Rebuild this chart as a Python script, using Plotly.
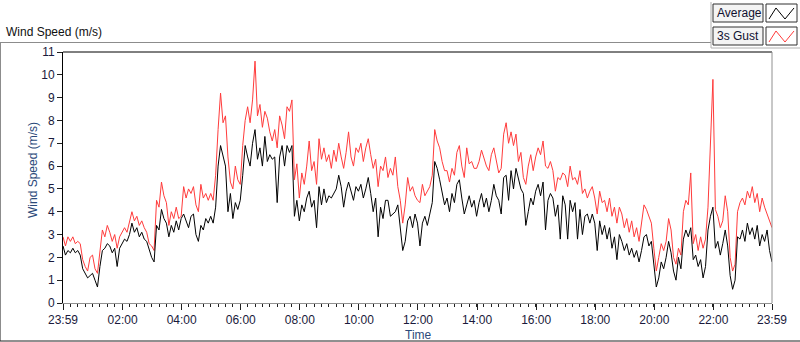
import pandas as pd
import plotly.graph_objects as go

# ---------------- data (5-minute readings, 23:59 -> 23:59) ----------------
start = "2020-01-01 23:59"
end = "2020-01-02 23:59"

average = [
    2.5, 2.1, 2.3, 2.2, 2.4, 2.2, 2.3, 2.1, 1.5, 1.3, 1.1, 1.2,
    1.3, 1.0, 0.7, 1.6, 2.3, 2.4, 2.6, 2.5, 2.2, 2.4, 1.6, 2.4,
    2.6, 2.8, 2.7, 3.0, 3.5, 3.1, 3.3, 2.9, 3.1, 2.8, 2.7, 2.3,
    2.0, 1.8, 3.4, 3.2, 4.1, 3.7, 3.5, 2.9, 3.4, 3.1, 3.6, 3.2,
    3.7, 3.9, 3.6, 3.3, 3.8, 3.9, 3.0, 2.7, 3.4, 3.2, 3.7, 3.5,
    3.8, 3.5, 4.2, 6.0, 6.9, 6.5, 6.0, 4.0, 4.8, 3.7, 4.4, 4.1,
    4.5, 5.6, 6.9, 6.4, 6.0, 7.0, 7.6, 6.3, 6.8, 6.0, 7.3, 6.2,
    6.5, 6.3, 6.4, 4.4, 6.4, 6.9, 6.0, 6.9, 6.6, 6.9, 3.8, 4.5,
    3.6, 4.3, 4.0, 4.6, 4.9, 4.2, 4.5, 3.3, 5.1, 4.3, 5.0, 4.4,
    4.7, 4.6, 4.8, 5.0, 5.6, 5.1, 4.2, 4.9, 5.3, 4.9, 4.5, 5.1,
    4.9, 5.2, 4.6, 5.0, 5.5, 4.8, 4.0, 4.6, 2.9, 4.2, 3.7, 4.5,
    4.5, 3.8, 3.9, 4.0, 4.3, 3.4, 2.3, 2.7, 3.6, 3.8, 3.3, 3.9,
    3.5, 2.5, 3.5, 3.8, 3.4, 3.9, 4.4, 6.2, 5.9, 5.4, 4.9, 4.3,
    4.6, 4.0, 4.8, 4.4, 5.2, 5.4, 4.6, 3.9, 4.3, 4.7, 4.2, 4.5,
    3.8, 4.4, 4.8, 4.2, 4.6, 4.0, 4.5, 5.2, 4.7, 4.5, 3.9, 5.5,
    5.6, 4.5, 5.8, 5.0, 5.9, 5.5, 5.0, 4.8, 3.4, 4.0, 4.6, 4.3,
    4.9, 5.2, 4.7, 5.3, 3.2, 4.5, 4.8, 4.6, 3.8, 4.3, 2.8, 4.7,
    4.3, 2.8, 4.5, 4.0, 4.4, 2.8, 4.1, 3.0, 3.8, 3.9, 3.5, 3.9,
    3.5, 2.3, 3.6, 3.0, 3.4, 2.8, 3.3, 2.4, 2.9, 1.9, 3.0, 2.7,
    2.3, 2.6, 2.1, 2.4, 2.0, 2.3, 1.8, 2.3, 2.9, 3.0, 2.5, 2.7,
    1.8, 0.7, 1.1, 1.8, 1.5, 2.0, 2.7, 2.2, 1.4, 1.0, 2.0, 1.5,
    2.8, 3.2, 2.9, 3.3, 1.9, 2.1, 1.6, 1.9, 1.1, 1.6, 3.2, 3.8,
    4.2, 2.4, 2.7, 2.1, 2.6, 3.2, 2.5, 1.2, 0.6, 1.0, 2.9, 2.8,
    3.2, 2.7, 3.5, 3.0, 3.3, 2.8, 3.4, 2.5, 3.0, 2.7, 3.2, 2.3,
    1.8,
]

gust = [
    2.9, 2.5, 2.9, 2.7, 2.9, 2.6, 2.7, 2.6, 1.9, 1.6, 1.4, 2.0,
    2.1, 1.5, 1.3, 2.4, 3.2, 2.9, 3.4, 3.1, 2.7, 3.0, 2.4, 2.9,
    3.1, 3.3, 3.1, 3.5, 4.0, 3.6, 3.8, 3.4, 3.6, 3.3, 3.1, 2.6,
    2.5, 2.3, 4.5, 4.2, 5.3, 4.7, 4.4, 3.4, 4.0, 3.7, 4.2, 3.7,
    3.8, 5.1, 4.6, 5.0, 4.8, 5.1, 4.3, 4.0, 5.2, 4.6, 4.8, 4.5,
    4.8, 4.5, 5.6, 7.6, 9.2, 7.9, 8.2, 6.4, 5.3, 5.0, 6.0, 5.4,
    5.2, 6.9, 8.0, 8.6, 7.9, 8.9, 10.6, 8.2, 8.7, 7.7, 8.4, 8.1,
    7.5, 7.1, 7.6, 6.8, 8.2, 7.8, 7.2, 8.6, 8.4, 8.9, 5.4, 6.1,
    4.6, 5.7, 5.2, 6.0, 7.1, 5.8, 6.2, 5.2, 7.2, 6.3, 6.8, 6.2,
    6.5, 5.9, 6.7, 6.2, 7.0, 6.4, 5.9, 6.6, 7.5, 6.4, 6.0, 6.8,
    6.6, 7.0, 6.2, 6.8, 7.2, 6.5, 5.9, 6.3, 5.1, 6.0, 5.8, 6.4,
    5.5, 5.9, 5.6, 6.4, 5.1, 4.5, 3.5, 4.3, 5.5, 4.9, 5.1, 4.7,
    4.5, 4.4, 5.2, 4.7, 4.9, 5.1, 5.6, 7.6, 7.1, 6.8, 6.2, 5.8,
    5.8, 5.3, 5.9, 5.6, 6.6, 6.9, 6.0, 5.5, 6.8, 6.1, 6.2, 5.9,
    5.9, 6.2, 6.7, 6.3, 6.0, 5.8, 6.5, 6.8, 6.2, 5.7, 5.9, 7.4,
    7.9, 7.0, 7.5, 6.9, 7.4, 6.2, 6.6, 5.5, 5.2, 6.0, 6.5, 5.8,
    6.4, 6.8, 6.5, 7.1, 6.0, 5.9, 6.2, 5.8, 4.9, 5.5, 5.4, 5.7,
    5.6, 5.1, 6.0, 5.4, 5.5, 5.2, 5.8, 4.8, 5.0, 4.6, 4.9, 5.1,
    4.6, 3.9, 4.9, 4.4, 4.5, 4.0, 4.6, 3.8, 4.2, 3.5, 4.2, 3.9,
    3.3, 3.7, 3.1, 3.6, 2.9, 3.3, 2.7, 3.6, 4.3, 4.1, 3.8, 3.5,
    2.4, 1.4, 2.0, 2.6, 2.3, 2.7, 3.7, 3.2, 2.0, 1.7, 2.4, 2.1,
    4.0, 4.5, 4.3, 5.7, 2.6, 3.0, 2.3, 2.9, 2.4, 2.8, 4.2, 6.8,
    9.8, 4.1, 3.8, 3.3, 3.6, 4.7, 4.0, 2.0, 1.4, 1.7, 4.0, 4.4,
    4.6, 4.3, 4.9, 4.6, 5.1, 4.4, 4.8, 4.0, 4.6, 4.2, 3.9, 3.6,
    3.3,
]

tick_labels = ["23:59", "02:00", "04:00", "06:00", "08:00", "10:00", "12:00",
               "14:00", "16:00", "18:00", "20:00", "22:00", "23:59"]
y_ticks = list(range(0, 12))

# ---------------- figure ----------------
times = pd.date_range(start=start, periods=len(average), freq="5min")
tick_vals = [pd.Timestamp(start)] + [
    pd.Timestamp("2020-01-02") + pd.Timedelta(hours=h) for h in range(2, 23, 2)
] + [pd.Timestamp(end)]

FONT = "Liberation Sans, Arial, sans-serif"
TICK_COLOR = "#1a1a3c"
TITLE_COLOR = "#2b4a7a"

fig = go.Figure()
fig.add_trace(go.Scatter(x=times, y=gust, mode="lines", name="3s Gust",
                         line=dict(color="#ff3b3b", width=1)))
fig.add_trace(go.Scatter(x=times, y=average, mode="lines", name="Average",
                         line=dict(color="#000000", width=1)))

L, R, T, B = 63, 28, 52, 39
W, H = 800, 342
PW, PH = W - L - R, H - T - B


def px(x):
    return (x - L) / PW


def py(y):
    return (H - B - y) / PH


shapes = []
# plot frame: top black, right gray
shapes.append(dict(type="line", xref="paper", yref="paper", x0=0, x1=1, y0=1, y1=1,
                   line=dict(color="#000000", width=1)))
shapes.append(dict(type="line", xref="paper", yref="paper", x0=1, x1=1, y0=0, y1=1,
                   line=dict(color="#909090", width=1)))
# outer panel frame
shapes.append(dict(type="line", xref="paper", yref="paper", x0=px(0), x1=px(711),
                   y0=py(42.5), y1=py(42.5), line=dict(color="#8c8c8c", width=1)))
shapes.append(dict(type="line", xref="paper", yref="paper", x0=px(0.5), x1=px(0.5),
                   y0=py(42.5), y1=py(341), line=dict(color="#8c8c8c", width=1)))
shapes.append(dict(type="line", xref="paper", yref="paper", x0=px(0), x1=px(800),
                   y0=py(341), y1=py(341), line=dict(color="#202020", width=1)))
# legend recess
shapes.append(dict(type="line", xref="paper", yref="paper", x0=px(711), x1=px(711),
                   y0=py(2), y1=py(48), line=dict(color="#b0b0b0", width=1)))
shapes.append(dict(type="line", xref="paper", yref="paper", x0=px(711), x1=px(800),
                   y0=py(48), y1=py(48), line=dict(color="#b0b0b0", width=1)))

legend_rows = [("Average", "#000000", 4, 22), ("3s Gust", "#ff3b3b", 27, 45)]
annotations = []
for label, color, y0, y1 in legend_rows:
    shapes.append(dict(type="rect", xref="paper", yref="paper",
                       x0=px(713), x1=px(763), y0=py(y1), y1=py(y0),
                       line=dict(color="#303030", width=1), fillcolor="#f4f4f4"))
    shapes.append(dict(type="rect", xref="paper", yref="paper",
                       x0=px(766), x1=px(797), y0=py(y1), y1=py(y0),
                       line=dict(color="#303030", width=1), fillcolor="#ffffff"))
    pts = [(769, y1 - 3), (776, y0 + 4), (785, y1 - 3), (794, y0 + 4)]
    path = "M " + " L ".join(f"{px(a):.5f},{py(b):.5f}" for a, b in pts)
    shapes.append(dict(type="path", xref="paper", yref="paper", path=path,
                       line=dict(color=color, width=1)))
    annotations.append(dict(text=label, xref="paper", yref="paper",
                            x=px(715), y=py((y0 + y1) / 2), xanchor="left", yanchor="middle",
                            showarrow=False, font=dict(family=FONT, size=12, color="#101030")))

annotations.append(dict(text="Wind Speed (m/s)", xref="paper", yref="paper",
                        x=px(4), y=py(32), xanchor="left", yanchor="middle", showarrow=False,
                        font=dict(family=FONT, size=12, color="#101010")))
annotations.append(dict(text="Wind Speed (m/s)", xref="paper", yref="paper",
                        x=px(33), y=py(170), xanchor="center", yanchor="middle",
                        textangle=-90, showarrow=False,
                        font=dict(family=FONT, size=12, color=TITLE_COLOR)))
annotations.append(dict(text="Time", xref="paper", yref="paper",
                        x=px(418), y=py(334.5), xanchor="center", yanchor="middle",
                        showarrow=False, font=dict(family=FONT, size=12, color=TITLE_COLOR)))

fig.update_layout(
    width=W, height=H,
    margin=dict(l=L, r=R, t=T, b=B),
    paper_bgcolor="#ffffff", plot_bgcolor="#ffffff",
    showlegend=False,
    shapes=shapes, annotations=annotations,
    xaxis=dict(type="date", range=[pd.Timestamp(start), pd.Timestamp(end)],
               tickmode="array", tickvals=tick_vals, ticktext=tick_labels,
               ticks="outside", ticklen=6, tickwidth=1, tickcolor="#202020",
               tickfont=dict(family=FONT, size=12, color=TICK_COLOR),
               showgrid=False, zeroline=False,
               showline=True, linecolor="#909090", linewidth=1,
               minor=dict(ticks="outside", ticklen=3, tickwidth=1, tickcolor="#202020",
                          tick0=pd.Timestamp(start), dtick=15 * 60 * 1000, showgrid=False)),
    yaxis=dict(range=[0, 11], tickmode="array", tickvals=y_ticks,
               ticks="outside", ticklen=5, tickwidth=1, tickcolor="#202020",
               tickfont=dict(family=FONT, size=12, color=TICK_COLOR),
               showgrid=False, zeroline=False,
               showline=True, linecolor="#000000", linewidth=1),
)

fig.write_html("out.html", config={"displayModeBar": False},
               post_script="document.body.style.margin='0';document.body.style.overflow='hidden';")
